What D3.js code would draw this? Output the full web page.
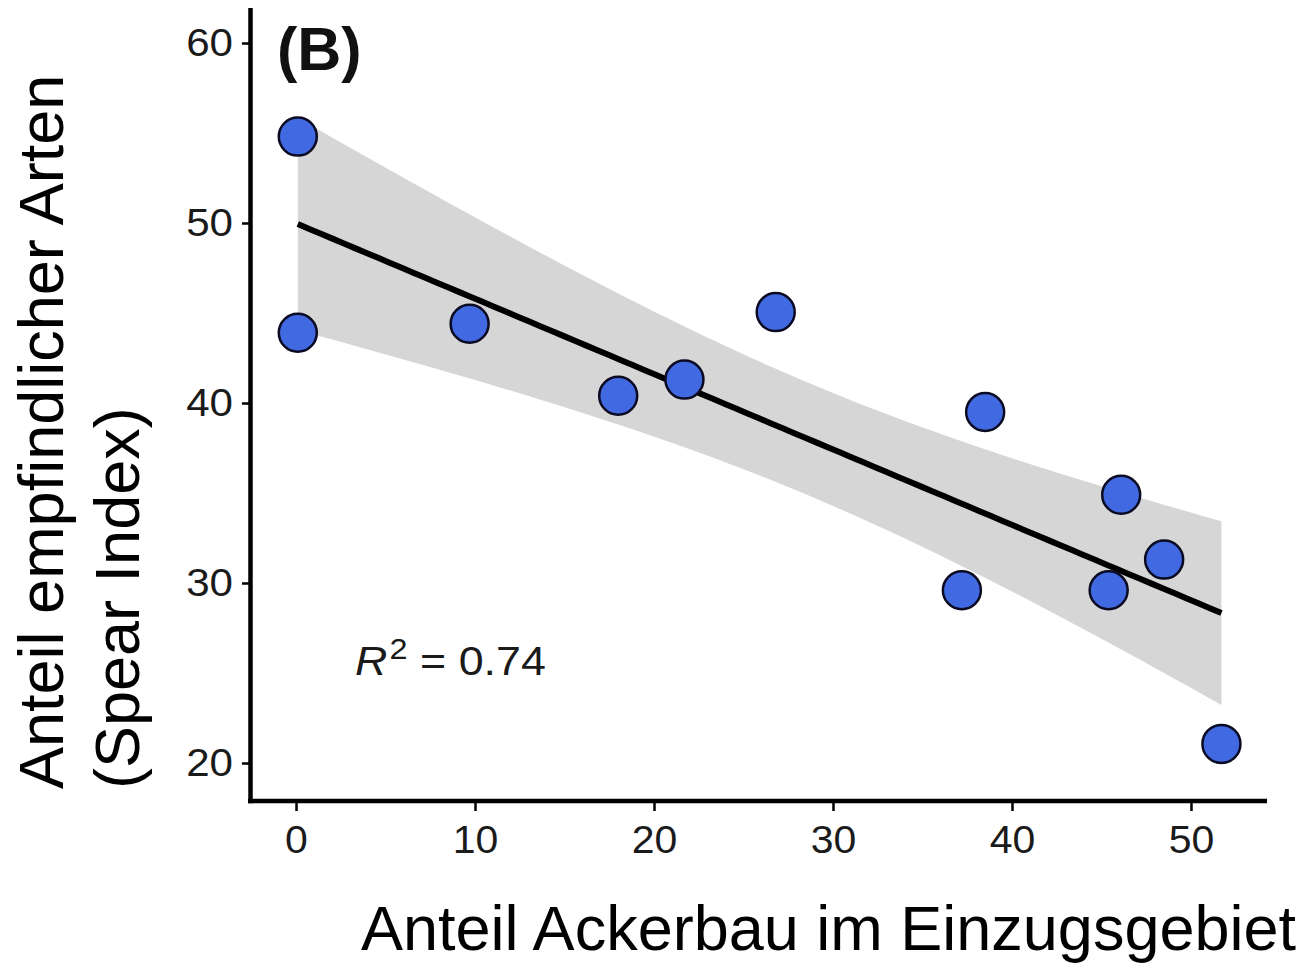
<!DOCTYPE html>
<html>
<head>
<meta charset="utf-8">
<script src="https://cdn.jsdelivr.net/npm/d3@7"></script>
<style>
  html, body { margin: 0; padding: 0; background: #fff; }
  svg { display: block; }
  text { font-family: "Liberation Sans", Arial, Helvetica, sans-serif; }
</style>
</head>
<body>
<script>
// ---- data ----
const agriculture = [0.1, 0.1, 9.7, 18.0, 21.7, 26.8, 37.2, 38.5, 45.4, 46.1, 48.5, 51.7];
const spearIndex  = [54.8, 43.9, 44.4, 40.4, 41.3, 45.05, 29.6, 39.5, 29.6, 34.9, 31.3, 21.06];
const xTicks = [0, 10, 20, 30, 40, 50];
const yTicks = [20, 30, 40, 50, 60];
const panelLabel = "(B)";
const xTitle = "Anteil Ackerbau im Einzugsgebiet";
const yTitleLines = ["Anteil empfindlicher Arten", "(Spear Index)"];
const r2Value = "0.74";
const tCrit = 2.228; // t quantile 0.975, df = 10

const W = 1315, H = 964;
const svg = d3.select("body").append("svg").attr("width", W).attr("height", H);

const x = d3.scaleLinear().domain([0, 50]).range([296, 1191]);
const y = d3.scaleLinear().domain([20, 60]).range([763, 43]);

const pts = agriculture.map((v, i) => ({ x: v, y: spearIndex[i] }));

// ---- linear regression + 95% confidence band ----
const n = pts.length;
const mx = d3.mean(pts, d => d.x), my = d3.mean(pts, d => d.y);
const sxx = d3.sum(pts, d => (d.x - mx) ** 2);
const sxy = d3.sum(pts, d => (d.x - mx) * (d.y - my));
const slope = sxy / sxx, icpt = my - slope * mx;
const sse = d3.sum(pts, d => (d.y - (icpt + slope * d.x)) ** 2);
const s = Math.sqrt(sse / (n - 2));
const [xmin, xmax] = d3.extent(pts, d => d.x);
const grid = d3.range(0, 81).map(i => xmin + (xmax - xmin) * i / 80);
const band = grid.map(g => {
  const fit = icpt + slope * g;
  const se = s * Math.sqrt(1 / n + (g - mx) ** 2 / sxx);
  return { x: g, fit, lo: fit - tCrit * se, hi: fit + tCrit * se };
});

svg.append("path")
  .datum(band)
  .attr("fill", "#d6d6d6")
  .attr("d", d3.area().x(d => x(d.x)).y0(d => y(d.lo)).y1(d => y(d.hi)));

svg.append("path")
  .datum(band)
  .attr("fill", "none")
  .attr("stroke", "#000")
  .attr("stroke-width", 6)
  .attr("d", d3.line().x(d => x(d.x)).y(d => y(d.fit)));

// ---- points ----
svg.append("g").selectAll("circle")
  .data(pts).join("circle")
  .attr("cx", d => x(d.x))
  .attr("cy", d => y(d.y))
  .attr("r", 19)
  .attr("fill", "#4169e1")
  .attr("stroke", "#0a0a22")
  .attr("stroke-width", 2.5);

// ---- axes ----
const axisY0 = 801, axisX0 = 250.5;
const gx = svg.append("g").attr("transform", `translate(0,${axisY0})`)
  .call(d3.axisBottom(x).tickValues(xTicks).tickSize(10).tickPadding(14).tickSizeOuter(0));
gx.select(".domain").remove();
gx.selectAll(".tick line").attr("stroke", "#000").attr("stroke-width", 2.5);
gx.selectAll(".tick text")
  .attr("fill", "#1a1a1a").attr("font-size", 39)
  .attr("font-family", "'Liberation Sans', Arial, sans-serif")
  .attr("transform", "scale(1.05,1)");

const gy = svg.append("g").attr("transform", `translate(${axisX0},0)`)
  .call(d3.axisLeft(y).tickValues(yTicks).tickSize(8.5).tickPadding(9).tickSizeOuter(0));
gy.select(".domain").remove();
gy.selectAll(".tick line").attr("stroke", "#000").attr("stroke-width", 2.5);
gy.selectAll(".tick text")
  .attr("fill", "#1a1a1a").attr("font-size", 39)
  .attr("font-family", "'Liberation Sans', Arial, sans-serif")
  .attr("x", -17.5 / 1.08)
  .attr("transform", "scale(1.08,1)");

// axis lines
svg.append("line")
  .attr("x1", 248).attr("x2", 1267).attr("y1", axisY0).attr("y2", axisY0)
  .attr("stroke", "#000").attr("stroke-width", 4.5);
svg.append("line")
  .attr("x1", axisX0).attr("x2", axisX0).attr("y1", 8).attr("y2", axisY0 + 2.25)
  .attr("stroke", "#000").attr("stroke-width", 4.5);

// ---- panel label ----
svg.append("text")
  .attr("x", 277).attr("y", 70)
  .attr("font-size", 61).attr("font-weight", "bold").attr("fill", "#111")
  .text(panelLabel);

// ---- R^2 annotation ----
const r2 = svg.append("text")
  .attr("transform", "translate(355,675) scale(1.12,1)")
  .attr("font-size", 40).attr("fill", "#1a1a1a");
r2.append("tspan").attr("font-style", "italic").text("R");
r2.append("tspan").attr("font-size", 29).attr("dy", -16).attr("dx", 2).text("2");
r2.append("tspan").attr("dy", 16).text(" = " + r2Value);

// ---- axis titles ----
svg.append("text")
  .attr("x", 361).attr("y", 950)
  .attr("font-size", 63).attr("fill", "#000")
  .text(xTitle);

const yt = svg.append("text")
  .attr("transform", "translate(63,789) rotate(-90)")
  .attr("font-size", 63).attr("fill", "#000");
yt.selectAll("tspan").data(yTitleLines).join("tspan")
  .attr("x", 0)
  .attr("dy", (d, i) => i === 0 ? 0 : 76)
  .text(d => d);
</script>
</body>
</html>
